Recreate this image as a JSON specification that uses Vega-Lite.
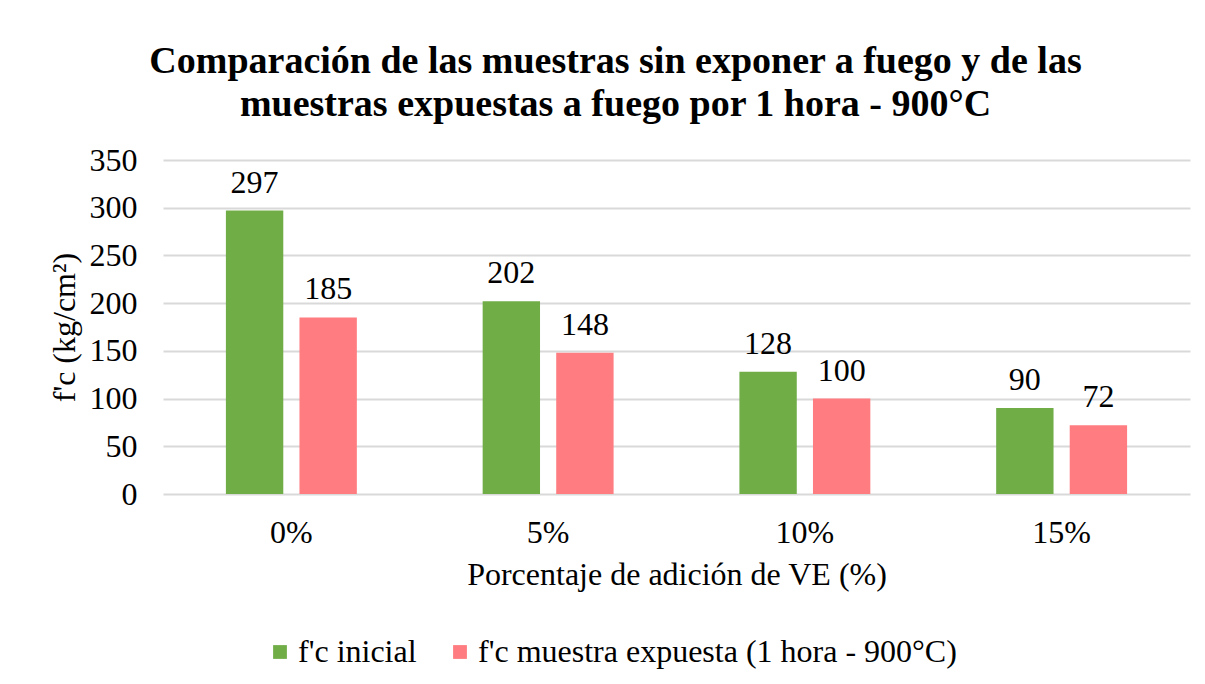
{
  "$schema": "https://vega.github.io/schema/vega-lite/v6.json",
  "width": 1027,
  "height": 334,
  "autosize": "none",
  "padding": {"left": 163, "top": 160, "right": 15, "bottom": 190},
  "background": "white",
  "config": {
    "font": "Liberation Serif, Times New Roman, serif",
    "view": {"stroke": null},
    "axis": {"labelFont": "Liberation Serif, Times New Roman, serif", "titleFont": "Liberation Serif, Times New Roman, serif", "labelColor": "#000", "titleColor": "#000", "titleFontWeight": "normal"},
    "legend": {"labelFont": "Liberation Serif, Times New Roman, serif"}
  },
  "title": {
    "text": ["Comparación de las muestras sin exponer a fuego y de las", "muestras expuestas a fuego por 1 hora - 900°C"],
    "font": "Liberation Serif, Times New Roman, serif",
    "fontSize": 38,
    "fontWeight": "bold",
    "color": "#000",
    "lineHeight": 43,
    "anchor": "middle",
    "dx": -61,
    "offset": 20
  },
  "data": {
    "values": [
      {"pct": "0%", "serie": "f'c inicial", "fc": 297},
      {"pct": "0%", "serie": "f'c muestra expuesta (1 hora - 900°C)", "fc": 185},
      {"pct": "5%", "serie": "f'c inicial", "fc": 202},
      {"pct": "5%", "serie": "f'c muestra expuesta (1 hora - 900°C)", "fc": 148},
      {"pct": "10%", "serie": "f'c inicial", "fc": 128},
      {"pct": "10%", "serie": "f'c muestra expuesta (1 hora - 900°C)", "fc": 100},
      {"pct": "15%", "serie": "f'c inicial", "fc": 90},
      {"pct": "15%", "serie": "f'c muestra expuesta (1 hora - 900°C)", "fc": 72}
    ]
  },
  "encoding": {
    "x": {
      "field": "pct", "type": "nominal", "sort": ["0%", "5%", "10%", "15%"],
      "scale": {"paddingInner": 0.49, "paddingOuter": 0.245},
      "axis": {"labelAngle": 0, "labelFontSize": 32, "ticks": false, "domain": false, "labelPadding": 23,
               "title": "Porcentaje de adición de VE (%)", "titleFontSize": 32, "titlePadding": 11}
    },
    "xOffset": {"field": "serie", "type": "nominal", "scale": {"paddingInner": 0.22, "paddingOuter": 0}},
    "y": {
      "field": "fc", "type": "quantitative",
      "scale": {"domain": [0, 350]},
      "axis": {"values": [0, 50, 100, 150, 200, 250, 300, 350], "labelFontSize": 32, "ticks": false, "domain": false,
               "labelPadding": 26, "gridColor": "#D9D9D9", "gridWidth": 2,
               "title": "f'c (kg/cm²)", "titleFontSize": 32, "titlePadding": 8}
    }
  },
  "layer": [
    {
      "mark": {"type": "bar"},
      "encoding": {
        "color": {
          "field": "serie", "type": "nominal",
          "scale": {"domain": ["f'c inicial", "f'c muestra expuesta (1 hora - 900°C)"], "range": ["#70AD47", "#FF7C80"]},
          "legend": {
            "title": null, "orient": "none", "legendX": 101, "legendY": 476,
            "direction": "horizontal", "columns": 2, "columnPadding": 27,
            "symbolType": "square", "symbolSize": 190, "symbolStrokeWidth": 0,
            "labelFontSize": 32, "labelColor": "#000", "labelOffset": 2, "labelLimit": 700
          }
        }
      }
    },
    {
      "mark": {"type": "text", "baseline": "bottom", "dy": -11, "fontSize": 32, "font": "Liberation Serif, Times New Roman, serif", "color": "#000"},
      "encoding": {"text": {"field": "fc", "type": "quantitative"}}
    }
  ]
}
